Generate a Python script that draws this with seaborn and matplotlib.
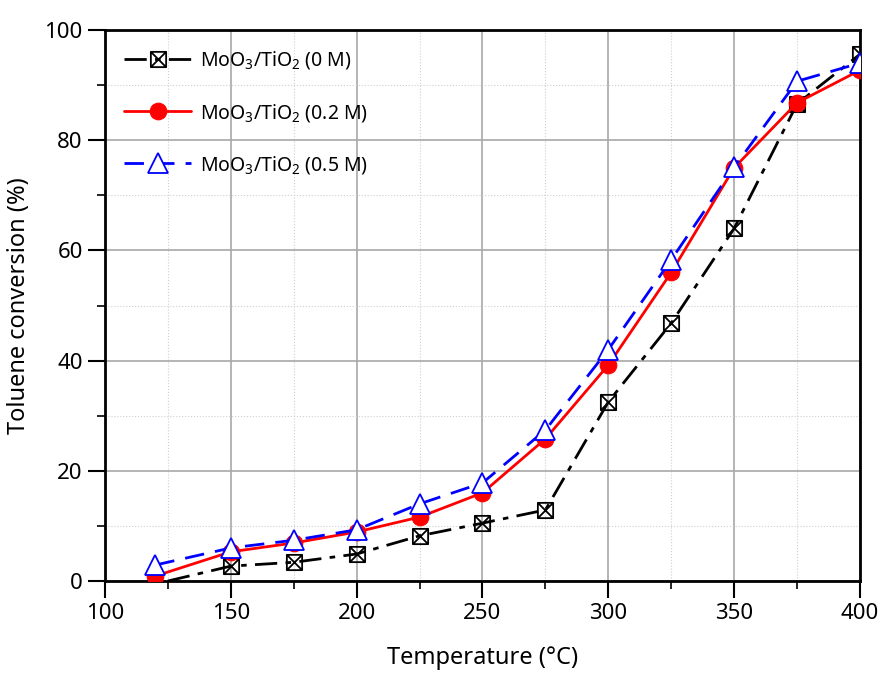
import matplotlib
matplotlib.use("Agg")
import matplotlib.pyplot as plt
from matplotlib.path import Path
from matplotlib.ticker import MultipleLocator
import seaborn as sns
import pandas as pd

temps_0 = [125, 150, 175, 200, 225, 250, 275, 300, 325, 350, 375, 400]
conv_0 = [0.0, 2.7, 3.4, 4.9, 8.2, 10.5, 12.9, 32.5, 46.8, 64.0, 86.6, 95.6]
temps_02 = [120, 150, 175, 200, 225, 250, 275, 300, 325, 350, 375, 400]
conv_02 = [0.9, 5.3, 6.9, 8.9, 11.6, 16.0, 25.8, 39.2, 56.0, 75.0, 86.8, 92.7]
temps_05 = [120, 150, 175, 200, 225, 250, 275, 300, 325, 350, 375, 400]
conv_05 = [2.9, 6.0, 7.4, 9.3, 14.0, 17.8, 27.4, 42.0, 58.3, 75.1, 90.7, 94.0]
labels = [r"MoO$_3$/TiO$_2$ (0 M)", r"MoO$_3$/TiO$_2$ (0.2 M)", r"MoO$_3$/TiO$_2$ (0.5 M)"]

sns.set_theme(style="white")
plt.rcParams["font.family"] = ["Noto Sans", "DejaVu Sans"]
plt.rcParams["mathtext.fontset"] = "custom"
plt.rcParams["mathtext.rm"] = "Noto Sans"
plt.rcParams["mathtext.it"] = "Noto Sans"
plt.rcParams["text.color"] = "black"
plt.rcParams["axes.labelcolor"] = "black"

fig = plt.figure(figsize=(8.81, 6.75), dpi=100)
ax = fig.add_axes([105/881, 1-581/675, 755/881, 551/675])

# square with X marker
verts = [(-1, -1), (1, -1), (1, 1), (-1, 1), (-1, -1), (-1, -1), (1, 1), (-1, 1), (1, -1)]
codes = [Path.MOVETO, Path.LINETO, Path.LINETO, Path.LINETO, Path.CLOSEPOLY,
         Path.MOVETO, Path.LINETO, Path.MOVETO, Path.LINETO]
sqx = Path(verts, codes)

df0 = pd.DataFrame({"T": temps_0, "C": conv_0})
df1 = pd.DataFrame({"T": temps_02, "C": conv_02})
df2 = pd.DataFrame({"T": temps_05, "C": conv_05})

sns.lineplot(data=df0, x="T", y="C", ax=ax, color="black", lw=2,
             linestyle=(0, (8, 3, 2, 3)), marker=sqx, markersize=11,
             markerfacecolor="none", markeredgecolor="black", markeredgewidth=1.3,
             markevery=list(range(1, len(temps_0))), label=labels[0], zorder=3)
sns.lineplot(data=df1, x="T", y="C", ax=ax, color="red", lw=2, linestyle="-",
             marker="o", markersize=12, markeredgecolor="red", label=labels[1], zorder=4)
sns.lineplot(data=df2, x="T", y="C", ax=ax, color="blue", lw=2,
             linestyle=(0, (7, 4)), marker="^", markersize=14,
             markerfacecolor="white", markeredgecolor="blue", markeredgewidth=1.3,
             label=labels[2], zorder=5)

ax.set_xlim(100, 400)
ax.set_ylim(0, 100)
ax.xaxis.set_major_locator(MultipleLocator(50))
ax.xaxis.set_minor_locator(MultipleLocator(25))
ax.yaxis.set_major_locator(MultipleLocator(20))
ax.yaxis.set_minor_locator(MultipleLocator(10))
ax.grid(True, which="major", color="#a8a8a8", lw=1.2)
ax.grid(True, which="minor", color="#cfcfcf", lw=0.8, linestyle=":")
ax.set_axisbelow(True)
for s in ax.spines.values():
    s.set_linewidth(2)
    s.set_color("black")
ax.tick_params(which="major", direction="out", length=12, width=1.5, labelsize=16,
               bottom=True, left=True, top=False, right=False, pad=4, colors="black")
ax.tick_params(which="minor", direction="out", length=6, width=1.2,
               bottom=True, left=True, top=False, right=False, colors="black")
ax.set_xlabel("Temperature (\u00b0C)", fontsize=17, labelpad=16)
ax.set_ylabel("Toluene conversion (%)", fontsize=17, labelpad=10)

leg = ax.legend(loc="upper left", frameon=False, fontsize=14, handlelength=3.4,
                handletextpad=0.5, labelspacing=1.55, borderaxespad=0.6)

fig.savefig("out.png", dpi=100)
